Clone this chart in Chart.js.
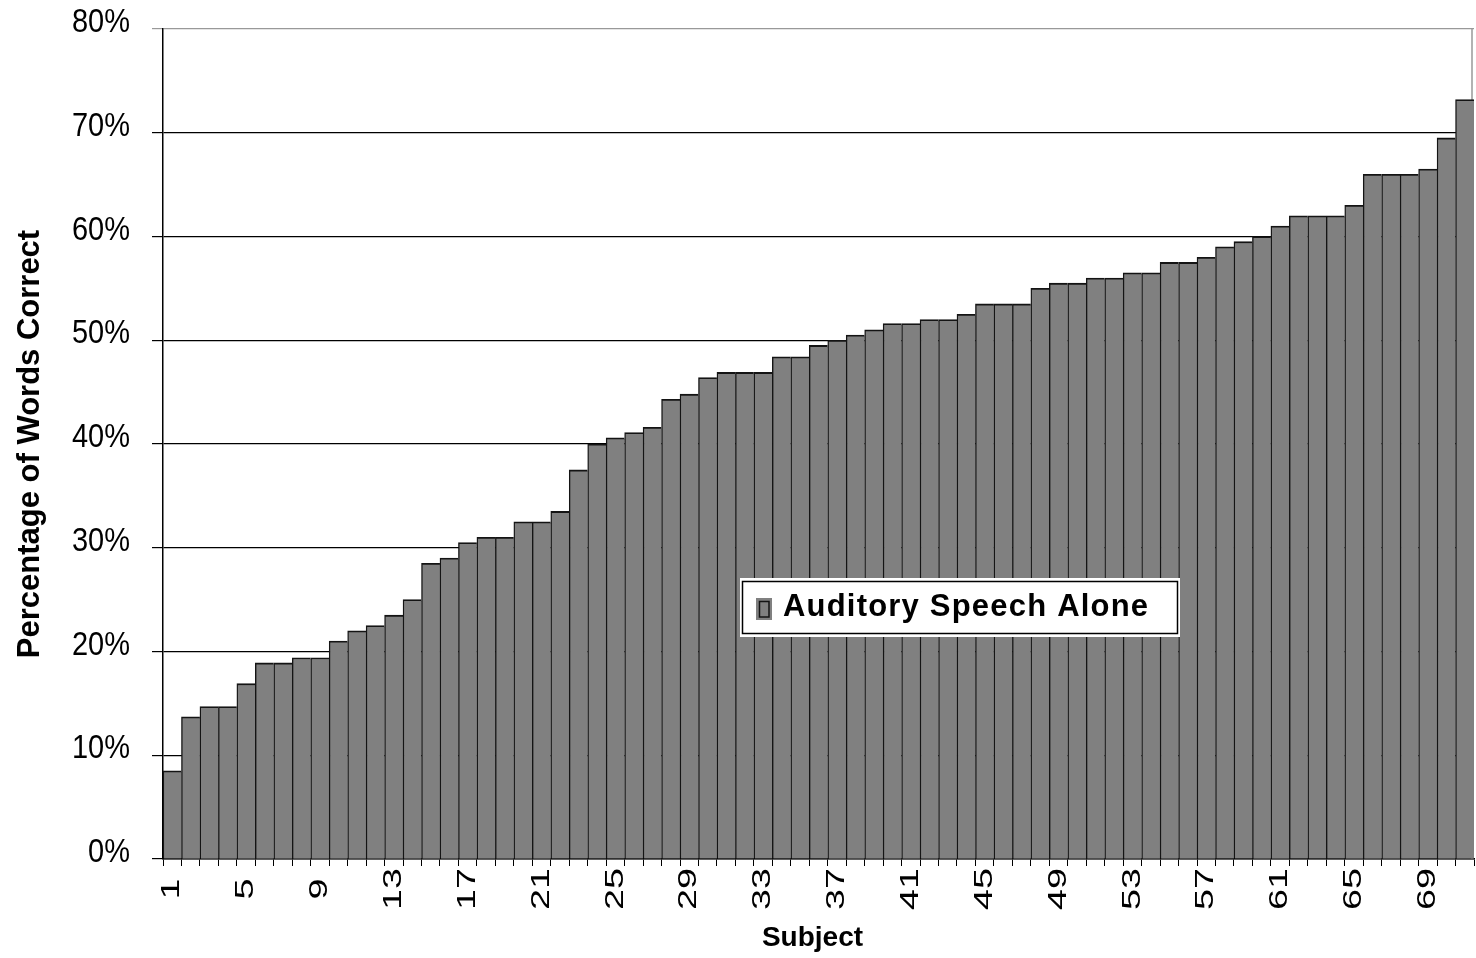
<!DOCTYPE html>
<html><head><meta charset="utf-8">
<script src="https://cdn.jsdelivr.net/npm/chart.js@4.4.0/dist/chart.umd.min.js"></script>
<style>html,body{margin:0;padding:0;background:#fff;overflow:hidden}</style>
</head><body>
<canvas id="c" width="1476" height="958" style="display:block;width:1476px;height:958px"></canvas>
<script>
// ---- data ----
const subjects = ['1','2','3','4','5','6','7','8','9','10','11','12','13','14','15','16','17','18','19','20',
  '21','22','23','24','25','26','27','28','29','30','31','32','33','34','35','36','37','38','39','40',
  '41','42','43','44','45','46','47','48','49','50','51','52','53','54','55','56','57','58','59','60',
  '61','62','63','64','65','66','67','68','69','70','71'];
const xTickLabels = ['1','5','9','13','17','21','25','29','33','37','41','45','49','53','57','61','65','69'];
const yTickValues = [0,10,20,30,40,50,60,70,80];
const seriesName = 'Auditory Speech Alone';
const wordsCorrect = [8.5,13.7,14.7,14.7,16.9,18.9,18.9,19.4,19.4,21.0,
  22.0,22.5,23.5,25.0,28.5,29.0,30.5,31.0,31.0,32.5,
  32.5,33.5,37.5,40.0,40.6,41.1,41.6,44.3,44.8,46.4,
  46.9,46.9,46.9,48.4,48.4,49.5,50.0,50.5,51.0,51.6,
  51.6,52.0,52.0,52.5,53.5,53.5,53.5,55.0,55.5,55.5,
  56.0,56.0,56.5,56.5,57.5,57.5,58.0,59.0,59.5,60.0,
  61.0,62.0,62.0,62.0,63.0,66.0,66.0,66.0,66.5,69.5,73.2];
const xTitle = 'Subject';
const yTitle = 'Percentage of Words Correct';

const FONT = '"Liberation Sans", Arial, sans-serif';

const framePlugin = {
  id: 'frame',
  beforeDatasetsDraw(chart) {
    const {ctx, chartArea: a} = chart;
    ctx.save();
    ctx.strokeStyle = '#999';
    ctx.lineWidth = 1.5;
    ctx.beginPath();
    ctx.moveTo(a.right - 2, a.top);
    ctx.lineTo(a.right - 2, a.bottom);
    ctx.stroke();
    ctx.restore();
  }
};

const legendBoxPlugin = {
  id: 'legendBox',
  afterDatasetsDraw(chart) {
    const {ctx} = chart;
    const ds = chart.data.datasets[0];
    ctx.save();
    ctx.fillStyle = '#fff';
    ctx.fillRect(740, 578, 440, 59);
    ctx.strokeStyle = '#000';
    ctx.lineWidth = 1.5;
    ctx.strokeRect(742.5, 581.5, 435, 52);
    ctx.fillStyle = ds.backgroundColor;
    ctx.fillRect(756, 598, 16, 22);
    ctx.strokeStyle = ds.borderColor;
    ctx.lineWidth = 1.5;
    ctx.strokeRect(759.5, 601.5, 9.5, 15.5);
    ctx.fillStyle = '#000';
    ctx.font = 'bold 31px ' + FONT;
    ctx.textAlign = 'left';
    ctx.textBaseline = 'alphabetic';
    try { ctx.letterSpacing = '1.2px'; } catch (e) {}
    ctx.fillText(ds.label, 783, 616);
    ctx.restore();
  }
};

const chart = new Chart(document.getElementById('c').getContext('2d'), {
  type: 'bar',
  data: {
    labels: subjects,
    datasets: [{
      label: seriesName,
      data: wordsCorrect,
      backgroundColor: '#808080',
      borderColor: '#141414',
      borderWidth: {top: 1.8, left: 1.4, right: 0, bottom: 0},
      barPercentage: 1,
      categoryPercentage: 1
    }]
  },
  options: {
    responsive: false,
    animation: false,
    devicePixelRatio: 1,
    layout: {padding: {top: 29, right: 2, left: 0, bottom: 0}},
    plugins: {legend: {display: false}, tooltip: {enabled: false}},
    scales: {
      x: {
        grid: {offset: true, drawOnChartArea: false, drawTicks: true, tickLength: 7, color: '#000', lineWidth: 1},
        border: {color: '#000', width: 1.5},
        ticks: {
          autoSkip: false, minRotation: 90, maxRotation: 90,
          callback: (v, i) => xTickLabels.includes(subjects[i]) ? subjects[i] : '',
          font: {family: FONT, size: 26}, color: '#000', padding: 4
        },
        title: {display: true, text: xTitle, color: '#000',
          font: {family: FONT, size: 28, weight: 'bold'}, padding: {top: 0, bottom: 3}},
        afterFit: s => { s.height = 99; s.paddingLeft = 0; s.paddingRight = 0; }
      },
      y: {
        min: 0, max: 80,
        afterBuildTicks: s => { s.ticks = yTickValues.map(v => ({value: v})); },
        ticks: {callback: v => v + '%', font: {family: FONT, size: 28}, color: '#000', padding: 22},
        grid: {color: c => (c.tick && c.tick.value === 80) ? '#999' : '#000', lineWidth: 1.2, tickLength: 11, drawTicks: true},
        border: {color: '#000', width: 1.5},
        title: {display: true, text: yTitle, color: '#000',
          font: {family: FONT, size: 31, weight: 'bold'}, padding: {top: 12, bottom: 0}},
        afterFit: s => { s.width = 163; s.paddingTop = 0; s.paddingBottom = 0; }
      }
    }
  },
  plugins: [framePlugin, legendBoxPlugin]
});

// x tick labels: centred and stretched along the text, as in the original
const xs = chart.scales.x;
xs.drawLabels = function () {
  const c = this.ctx;
  c.save();
  c.font = '26px ' + FONT;
  c.fillStyle = '#000';
  c.textAlign = 'center';
  c.textBaseline = 'middle';
  this.ticks.forEach((t, i) => {
    if (!t.label) return;
    const x = this.getPixelForTick(i);
    c.save();
    c.translate(x, 889);
    c.rotate(-Math.PI / 2);
    c.scale(1.45, 1);
    c.fillText(t.label, 0, 0);
    c.restore();
  });
  c.restore();
};
// x title sits slightly left of the plot centre in the original
const xTitleDraw = xs.drawTitle.bind(xs);
xs.drawTitle = function () {
  this.ctx.save();
  this.ctx.translate(-6, 0);
  xTitleDraw();
  this.ctx.restore();
};
// y tick labels: slightly tall glyphs, sitting a little above the grid line
const ys = chart.scales.y;
ys.drawLabels = function () {
  const c = this.ctx;
  c.save();
  c.font = '29px ' + FONT;
  c.fillStyle = '#000';
  c.textAlign = 'right';
  c.textBaseline = 'middle';
  this.ticks.forEach((t, i) => {
    const y = this.getPixelForTick(i);
    c.save();
    c.translate(this.right - 33, y - 6);
    c.scale(1, 1.15);
    c.fillText(t.label, 0, 0);
    c.restore();
  });
  c.restore();
};
chart.draw();
</script>
</body></html>
